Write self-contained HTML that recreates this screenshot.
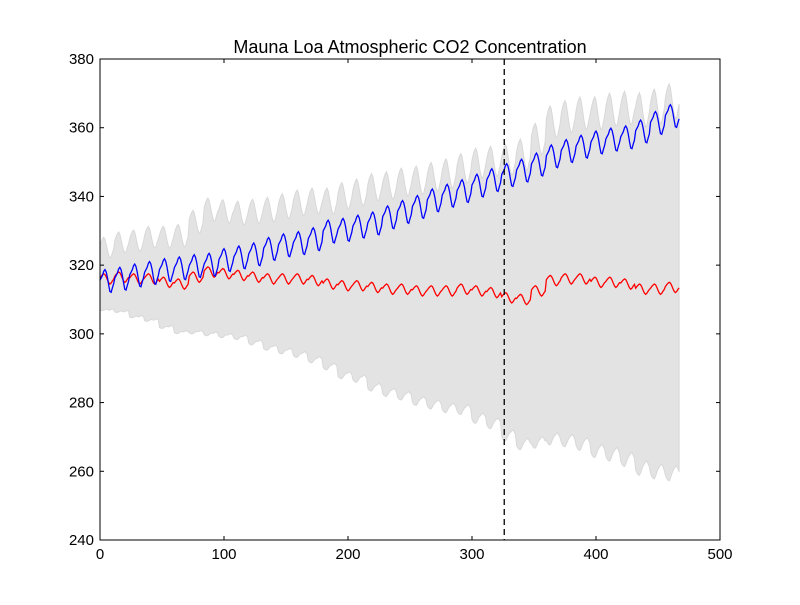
<!DOCTYPE html>
<html><head><meta charset="utf-8"><style>
body{margin:0;background:#fff;}
svg text{font-family:"Liberation Sans",sans-serif;}
</style></head><body>
<svg id="chart" width="800" height="600"></svg>
<script>
const years = [1958,1959,1960,1961,1962,1963,1964,1965,1966,1967,1968,1969,1970,1971,1972,1973,1974,1975,1976,1977,1978,1979,1980,1981,1982,1983,1984,1985,1986,1987,1988,1989,1990,1991,1992,1993,1994,1995,1996];
const observedAnnual = [315.3,315.97,316.91,317.64,318.45,318.99,319.62,320.04,321.38,322.16,323.04,324.62,325.68,326.32,327.45,329.68,330.18,331.11,332.04,333.83,335.40,336.84,338.75,340.11,341.45,343.05,344.65,346.12,347.42,349.19,351.57,353.12,354.39,355.61,356.45,357.10,358.83,361.3,363.3];
const seasonal = [0.3,1.0,1.7,2.9,3.4,2.7,1.1,-1.1,-3.0,-3.2,-1.9,-0.7];
const predictedAnnual = [316,316.5,316,316,315,314.5,316.5,318,317.5,317,316.5,316,316,316,315.5,314.5,314,314,313.5,313,313,312.5,312.5,312.5,313,312.5,312,310.5,310,312.5,315.5,316,316,315,315,314.5,313,313,313.5];
const predSeasonal = [0.3,0.8,1.2,1.5,1.3,0.6,-0.3,-1.1,-1.5,-1.2,-0.6,-0.1];
const bandHalfWidth = [9,10,11,12,13,14,16,18,18,18,19,20,21,22,23,24,26,27,29,30,31,32,33,34,35,37,38,40,42,44,46,47,48,49,50,51,52,53,54];
const bandSeasonal = [1,2.5,3.5,4,3,1,-1,-2.5,-3.5,-3.5,-2,-0.5];
const xTicks = [0,100,200,300,400,500];
const yTicks = [240,260,280,300,320,340,360,380];
const splitIndex = 326;

const L=100,R=720,T=59,B=540;
const xs=v=>L+(v-0)/(500-0)*(R-L);
const ys=v=>B-(v-240)/(380-240)*(B-T);
const NS="http://www.w3.org/2000/svg";
const svg=document.getElementById('chart');
function mk(tag,attrs,parent){const e=document.createElementNS(NS,tag);for(const k in attrs)e.setAttribute(k,attrs[k]);(parent||svg).appendChild(e);return e;}

const obs=[],pred=[],up=[],lo=[];
years.forEach((y,i)=>{for(let m=0;m<12;m++){
  const idx=i*12+m;
  obs.push([idx,observedAnnual[i]+seasonal[m]]);
  const p=predictedAnnual[i]+predSeasonal[m];
  pred.push([idx,p]);
  const w=bandHalfWidth[i]+bandSeasonal[m]*(0.4+i/70);
  up.push([idx,p+w]);lo.push([idx,p-w]);
}});
const band=mk('path',{d:'M'+up.map(p=>xs(p[0])+','+ys(p[1])).join('L')+'L'+lo.slice().reverse().map(p=>xs(p[0])+','+ys(p[1])).join('L')+'Z',fill:'#e3e3e3',stroke:'#d8d8d8','stroke-width':1});


const pl=mk('polyline',{points:pred.map(p=>xs(p[0])+','+ys(p[1])).join(' '),fill:'none',stroke:'#ff0000','stroke-width':1.3});


const ol=mk('polyline',{points:obs.map(p=>xs(p[0])+','+ys(p[1])).join(' '),fill:'none',stroke:'#0000ff','stroke-width':1.3});


const dl=mk('line',{x1:xs(splitIndex),x2:xs(splitIndex),y1:T,y2:B,stroke:'#000','stroke-width':1.3,'stroke-dasharray':'6,4'});


const fr=mk('rect',{x:L,y:T,width:R-L,height:B-T,fill:'none',stroke:'#000','stroke-width':1});


xTicks.forEach(t=>{const x=xs(t);
  mk('line',{x1:x,x2:x,y1:B,y2:B-4,stroke:'#000'});mk('line',{x1:x,x2:x,y1:T,y2:T+4,stroke:'#000'});
  const tx=mk('text',{x:x,y:B+19,'text-anchor':'middle','font-size':15});tx.textContent=t;
  
  
});
yTicks.forEach(t=>{const y=ys(t);
  mk('line',{x1:L,x2:L+4,y1:y,y2:y,stroke:'#000'});mk('line',{x1:R,x2:R-4,y1:y,y2:y,stroke:'#000'});
  const tx=mk('text',{x:L-6,y:y+5,'text-anchor':'end','font-size':15});tx.textContent=t;
  
  
});
const title=mk('text',{x:(L+R)/2,y:53,'text-anchor':'middle','font-size':18});
title.textContent='Mauna Loa Atmospheric CO2 Concentration';


</script>
</body></html>
